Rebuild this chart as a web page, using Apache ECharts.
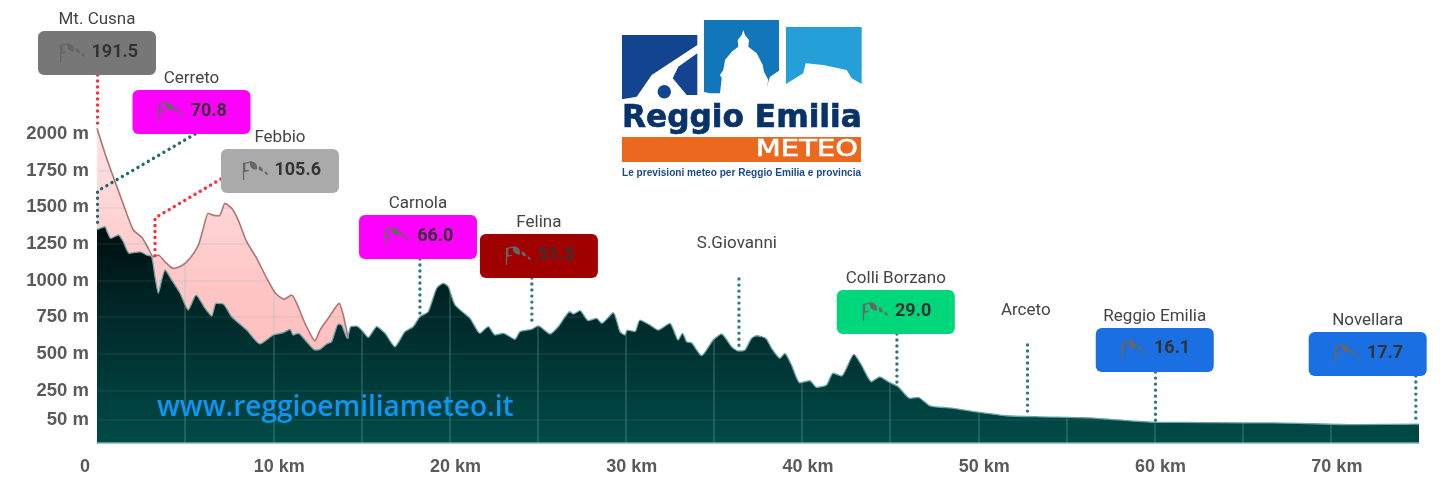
<!DOCTYPE html>
<html>
<head>
<meta charset="utf-8">
<style>html,body{margin:0;padding:0;background:#fff}#c{width:1440px;height:493px}</style>
<script src="https://cdn.jsdelivr.net/npm/echarts@6/dist/echarts.min.js"></script>
</head>
<body>
<div id="c"></div>
<script>
// Upper (pink) profile: km and metres
const upperKm = [0,0.45,0.92,1.30,1.68,2.06,2.54,2.91,3.19,3.48,3.86,4.33,4.80,5.28,5.75,6.03,6.31,6.60,6.94,7.26,7.64,8.01,8.49,9.06,9.63,10.10,10.61,11.04,11.33,11.80,12.37,12.65,13.12,13.74,13.97,14.25];
const upperM  = [2039,1868,1709,1584,1459,1345,1295,1220,1162,1174,1128,1083,1101,1152,1242,1356,1459,1445,1442,1527,1493,1413,1265,1152,1015,917,872,901,844,708,589,662,742,844,765,605];
// Lower (dark) profile: km and metres
const lowerKm = [0,0.17,0.45,0.58,0.78,1.21,1.49,1.83,2.44,2.82,3.10,3.29,3.48,3.67,3.86,4.24,4.71,5.18,5.62,6.13,6.51,6.75,7.16,7.64,8.49,9.25,10.0,10.57,10.95,11.13,11.42,11.89,12.37,12.65,13.03,13.31,13.69,13.88,14.2,14.39,14.73,15.01,15.39,15.87,16.34,16.9,17.47,17.94,18.32,18.79,19.27,19.64,19.93,20.31,21.16,21.72,22.2,22.58,23.05,23.71,24.0,24.66,25.03,25.7,26.17,26.83,27.02,27.4,27.87,28.34,28.63,29.29,29.67,29.95,30.08,30.52,30.8,31.37,31.84,32.5,32.97,33.22,33.45,33.73,34.3,34.96,35.43,36.0,36.37,36.76,37.13,37.42,37.95,38.27,38.74,39.02,39.4,39.87,40.44,40.82,41.39,41.76,42.24,42.94,43.37,43.94,44.41,44.88,45.45,46.12,46.58,47.25,48.57,50.09,51.6,53.49,56.32,58.78,60.05,61.43,65.0,66.7,71.46,75];
const lowerM  = [1349,1356,1367,1333,1288,1311,1265,1186,1195,1174,1162,1026,913,1003,1072,1003,913,799,901,810,758,844,840,753,662,567,628,644,667,628,640,582,526,530,567,582,703,696,605,685,689,662,612,685,640,548,651,685,753,787,947,981,958,833,742,640,685,628,640,599,651,667,691,635,685,787,771,794,726,742,708,780,651,628,662,651,730,696,662,708,594,640,582,575,487,594,635,548,519,526,605,623,605,537,469,502,423,302,316,271,287,367,348,496,423,309,343,309,275,196,203,145,128,100,77,70,63,41,32,32,29,29,16,20];

const yTicks = [50,250,500,750,1000,1250,1500,1750,2000];
const xLabelKm = [0,10,20,30,40,50,60,70];

// Stations
const stationNames = ['Mt. Cusna','Cerreto','Febbio','Carnola','Felina','S.Giovanni','Colli Borzano','Arceto','Reggio Emilia','Novellara'];
const windValues   = ['191.5','70.8','105.6','66.0','51.5',null,'29.0',null,'16.1','17.7'];
const boxColors    = ['#777777','#ff00ff','#aaaaaa','#ff00ff','#a00000',null,'#00d67a',null,'#1a6fe3','#1a6fe3'];
// Callout layout on the chart's scales
const calloutKm = [0,5.36,10.38,18.21,25.07,36.30,45.32,52.69,60.01,72.09];
const calloutM  = [2553,2150,1747,1297,1167,1024,785,567,526,498];
// Leaders
const leaderColors = ['#ff2a3c','#1f6b6b','#ff2a3c','#2f7a7a','#2f7a7a','#2f7a7a','#2f7a7a','#2f7a7a','#2f7a7a','#2f7a7a'];
const leaderKm = [[0.03,0.03],[5.56,0.03,0.03],[7.03,3.29,3.29],[18.32,18.32],[24.67,24.67],[36.42,36.42],[45.38,45.38],[52.79,52.79],[60.05,60.05],[74.82,74.82]];
const leaderM  = [[2403,2039],[2000,1611,1358],[1693,1427,1154],[1147,758],[1017,696],[1010,526],[635,280],[560,75],[375,41],[348,27]];

const windIcon = 'M0 3h1.3v16H0z M1.3 3L9 1.5V2.6L2.4 4V10L6 9.4V10.5L1.3 11.5z M7 2C12 1 15 5 14 9C10 10 6 7 7 2z M16 6.5C19 6.5 20 9 20 11C17 11 15 9 16 6.5z M22 11C24 11 25 13 25 14C23 14 21 13 22 11z';

const zip = (a,b)=>a.map((v,i)=>[v,b[i]]);
const upper = zip(upperKm,upperM);
const lower = zip(lowerKm,lowerM);
const envelope = upper.concat(lower.filter(p=>p[0]>upperKm[upperKm.length-1]));

const chart = echarts.init(document.getElementById('c'),null,{renderer:'canvas'});

function renderCallout(params,api){
  const i = params.dataIndex;
  const p = api.coord([api.value(0),api.value(1)]);
  const cx = p[0], cy = p[1];
  const children = [];
  if(boxColors[i]){
    children.push({type:'rect',shape:{x:cx-59,y:cy-22,width:118,height:44,r:6},style:{fill:boxColors[i]}});
    const five = windValues[i].length===5;
    children.push({type:'path',shape:{pathData:windIcon,x:cx+(five?-37:-33),y:cy-10,width:25,height:19,layout:'cover'},style:{fill:'#666666'}});
    children.push({type:'text',style:{x:cx+(five?-5.5:-0.8),y:cy-1,text:windValues[i],font:'bold 18px Roboto',fill:'#333333',align:'left',verticalAlign:'middle'}});
  }
  children.push({type:'text',style:{x:cx,y:cy-33,text:stationNames[i],font:'17px Roboto',fill:'#444444',align:'center',verticalAlign:'middle'}});
  return {type:'group',children};
}

const leaderSeries = leaderKm.map((kms,i)=>({
  type:'line',z:6,silent:true,clip:false,symbol:'none',animation:false,
  data:zip(kms,leaderM[i]),
  lineStyle:{color:leaderColors[i],width:3.4,type:[0.01,6],cap:'round'}
}));
const SM = 0.2;

const option = {
  animation:false,
  backgroundColor:'#ffffff',
  grid:{left:97,right:21,top:0,bottom:50,containLabel:false},
  xAxis:{
    type:'value',min:0,max:75,interval:5,z:3,
    axisLine:{show:true,onZero:false,lineStyle:{color:'#7fb5b3',width:1.5}},
    axisTick:{show:false},
    splitLine:{show:true,showMinLine:false,showMaxLine:false,lineStyle:{color:'rgba(125,195,195,0.3)',width:1.5}},
    axisLabel:{
      margin:15,
      formatter:v=>{
        if(v===0) return '{z|0}';
        return xLabelKm.includes(v)?'{a|'+v+' km}':'';
      },
      rich:{
        a:{fontWeight:'bold',fontSize:18,fontFamily:'Liberation Sans',color:'#5a5a5a',padding:[0,0,0,12]},
        z:{fontWeight:'bold',fontSize:18,fontFamily:'Liberation Sans',color:'#5a5a5a',padding:[0,24,0,0]}
      }
    }
  },
  yAxis:{
    type:'value',min:-109,max:2915,z:3,
    axisLine:{show:false},
    axisTick:{show:false,customValues:yTicks},
    splitLine:{show:true,lineStyle:{color:'rgba(95,165,165,0.14)',width:1.5}},
    axisLabel:{customValues:yTicks,margin:8,padding:[0,0,2,0],fontWeight:'bold',fontSize:18.5,fontFamily:'Liberation Sans',color:'#5a5a5a',formatter:v=>v+' m'}
  },
  series:[
    {type:'line',z:1,silent:true,symbol:'none',smooth:SM,data:upper,lineStyle:{width:0},
      areaStyle:{opacity:1,origin:'start',color:new echarts.graphic.LinearGradient(0,0,0,1,[{offset:0,color:'#ffe4e4'},{offset:0.5,color:'#ffc6c6'},{offset:1,color:'#ffb4b4'}])}},
    {type:'line',z:2,silent:true,symbol:'none',smooth:SM,data:lower,lineStyle:{width:0},
      areaStyle:{opacity:1,origin:'start',color:new echarts.graphic.LinearGradient(0,0,0,1,[{offset:0,color:'#000e0e'},{offset:0.45,color:'#002b2b'},{offset:1,color:'#004b47'}])}},
    {type:'line',z:4,silent:true,symbol:'none',smooth:SM,data:envelope,lineStyle:{width:0},
      areaStyle:{opacity:1,color:'#ffffff',origin:'end'}},
    {type:'line',z:5,silent:true,symbol:'none',smooth:SM,data:upper,lineStyle:{color:'#ad7474',width:1.6}},
    {type:'line',z:5,silent:true,symbol:'none',smooth:SM,data:lower,lineStyle:{color:'#6aa5a5',width:1.3}},
    ...leaderSeries,
    {type:'custom',z:7,silent:true,clip:false,renderItem:renderCallout,data:zip(calloutKm,calloutM),encode:{x:0,y:1}}
  ],
  graphic:{elements:[
    {type:'text',z:8,x:157,y:408,style:{text:'www.reggioemiliameteo.it',font:'600 28px "Open Sans"',fill:'#0d96f5',align:'left',verticalAlign:'middle'}},
    // logo
    {type:'polygon',z:8,shape:{points:[[622,35],[697.3,35],[697.3,45],[651.7,75],[636.7,96.7],[622,99.3]]},style:{fill:'#13448f'}},
    {type:'polygon',z:8,shape:{points:[[697.3,53.3],[678.3,66.7],[672.7,78.3],[686.7,95],[697.3,95]]},style:{fill:'#13448f'}},
    {type:'circle',z:8,shape:{cx:664.3,cy:91.7,r:6.7},style:{fill:'#13448f'}},
    {type:'polygon',z:8,shape:{points:[[704,92],[710,93.3],[720,93.3],[721.7,78.3],[720,75],[723.3,70],[725,60],[731.7,51.7],[738.3,46.7],[737.7,40],[741.7,35],[743.3,30],[745,35],[749,40],[748.3,46.7],[756.7,53.3],[762.7,65],[764,71.7],[768.3,80],[766.7,87.3],[770,76.7],[779,70.7],[779,20],[704,20]]},style:{fill:'#1277ba'}},
    {type:'polygon',z:8,shape:{points:[[786,27],[861.7,27],[861.7,84],[851.7,78.3],[846.7,70],[823.3,65],[805.7,63.3],[803.3,73.3],[786,84]]},style:{fill:'#259fd8'}},
    {type:'text',z:8,x:622,y:119,scaleX:0.975,style:{text:'Reggio Emilia',font:'bold 32px "DejaVu Sans"',fill:'#07336a',stroke:'#07336a',lineWidth:0.7,align:'left',verticalAlign:'middle'}},
    {type:'rect',z:8,shape:{x:622,y:137,width:239,height:25},style:{fill:'#ec681e'}},
    {type:'text',z:8,x:858,y:150,scaleX:1.26,style:{text:'METEO',font:'23px "DejaVu Sans"',fill:'#ffffff',stroke:'#ffffff',lineWidth:0.6,align:'right',verticalAlign:'middle'}},
    {type:'text',z:8,x:622,y:173,scaleX:1.01,style:{text:'Le previsioni meteo per Reggio Emilia e provincia',font:'bold 10px "Liberation Sans"',fill:'#1a4a8a',align:'left',verticalAlign:'middle'}}
  ]}
};
chart.setOption(option);
</script>
</body>
</html>
